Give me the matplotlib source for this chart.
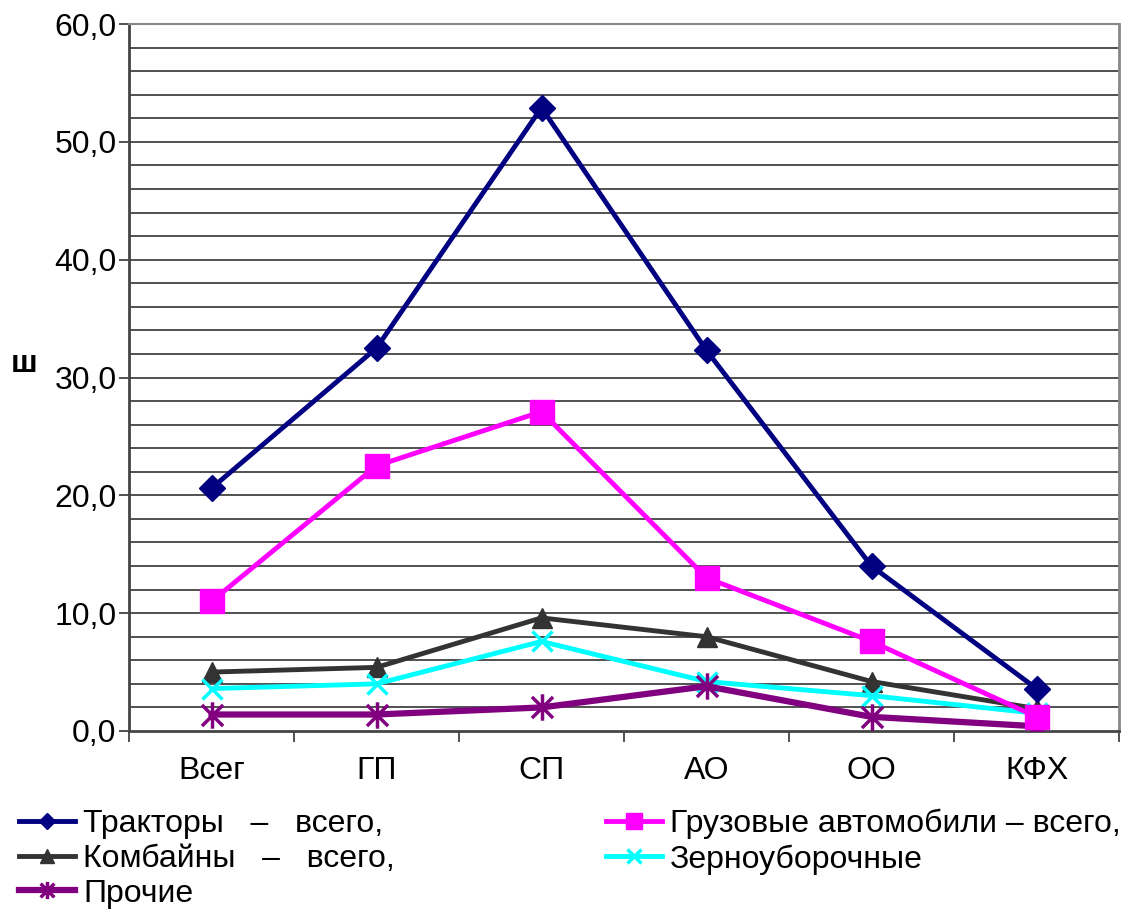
import matplotlib
matplotlib.use("Agg")
import matplotlib.pyplot as plt
import numpy as np
from matplotlib.path import Path
from matplotlib.ticker import FixedLocator, FuncFormatter

plt.rcParams['font.family'] = ['Liberation Sans', 'DejaVu Sans']

categories = ["Всег", "ГП", "СП", "АО", "ОО", "КФХ"]
tractors = [20.6, 32.5, 52.9, 32.3, 14.0, 3.6]
trucks = [11.0, 22.5, 27.1, 13.0, 7.6, 1.2]
combines = [5.0, 5.4, 9.6, 8.0, 4.2, 1.9]
grain = [3.6, 4.0, 7.6, 4.2, 3.0, 1.5]
other = [1.4, 1.4, 2.0, 3.8, 1.2, 0.4]

labels = ["Тракторы   –   всего,", "Грузовые автомобили – всего,",
          "Комбайны   –   всего,", "Зерноуборочные", "Прочие"]

FS = 23

# asterisk marker: vertical stroke plus an X
ast = Path([(0, -1), (0, 1), (-0.8, -0.8), (0.8, 0.8), (-0.8, 0.8), (0.8, -0.8)],
           [Path.MOVETO, Path.LINETO, Path.MOVETO, Path.LINETO, Path.MOVETO, Path.LINETO])

fig = plt.figure(figsize=(11.23, 9.09), dpi=100)
ax = fig.add_axes([129/1123, 1-731/909, 990/1123, 707/909])

x = np.arange(len(categories))

l1, = ax.plot(x, tractors, color='#000080', lw=3.5, marker='D', ms=13, label=labels[0], zorder=5)
l2, = ax.plot(x, trucks, color='#FF00FF', lw=3.5, marker='s', ms=17, label=labels[1], zorder=4)
l3, = ax.plot(x, combines, color='#333333', lw=3.5, marker='^', ms=15, label=labels[2], zorder=3)
l4, = ax.plot(x, grain, color='#00FFFF', lw=3.5, marker='x', ms=15, mew=2.5, label=labels[3], zorder=3)
l5, = ax.plot(x, other, color='#800080', lw=4.5, marker=ast, ms=19, mew=2.5, mfc='none', label=labels[4], zorder=3)

ax.set_xlim(-0.5, len(categories) - 0.5)
ax.set_ylim(0, 60)
ax.set_yticks(np.arange(0, 61, 10))
ax.yaxis.set_major_formatter(FuncFormatter(lambda v, p: f"{v:.1f}".replace('.', ',')))
for yv in np.arange(2, 61, 2):
    ax.axhline(yv, color='#222222', lw=1.1, zorder=1)

ax.set_xticks(x)
ax.set_xticklabels(categories)
ax.xaxis.set_minor_locator(FixedLocator(np.arange(-0.5, len(categories), 1.0)))
ax.tick_params(axis='x', which='major', length=0, pad=18, labelsize=FS)
ax.tick_params(axis='x', which='minor', length=8, width=1.2, color='#333333')
ax.tick_params(axis='y', which='major', length=7, width=1.2, color='#333333', labelsize=FS, pad=2)

for s in ['left', 'bottom']:
    ax.spines[s].set_color('#444444')
    ax.spines[s].set_linewidth(2)
ax.spines['right'].set_color('#888888')
ax.spines['right'].set_linewidth(2)
ax.spines['top'].set_color('#888888')
ax.spines['top'].set_linewidth(1.5)

fig.text(24/1123, 1-364/909, "ш", fontsize=23, fontweight='bold', ha='center', va='center')

common = dict(loc='upper left', frameon=False, fontsize=FS, handlelength=1.75,
              handletextpad=0.25, labelspacing=0.15, markerscale=0.65,
              borderaxespad=0, borderpad=0)
leg1 = fig.legend(handles=[l1, l3, l5], labels=[labels[0], labels[2], labels[4]],
                  bbox_to_anchor=(19/1123, 1-809/909), **common)
leg2 = fig.legend(handles=[l2, l4], labels=[labels[1], labels[3]],
                  bbox_to_anchor=(606/1123, 1-809/909), **common)

fig.savefig("out.png", dpi=100)
